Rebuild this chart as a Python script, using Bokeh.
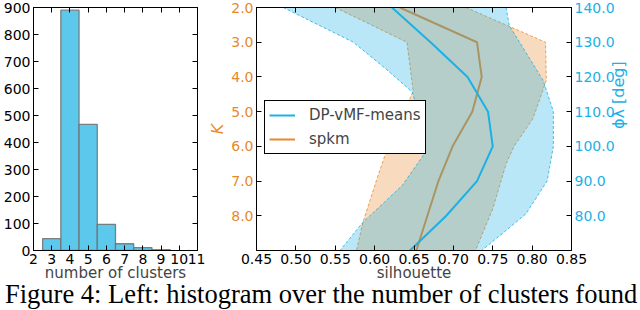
import math
from bokeh.plotting import figure
from bokeh.models import (Range1d, LinearAxis, FixedTicker, PrintfTickFormatter,
                          Legend, LegendItem, Div)
from bokeh.layouts import row, column
from bokeh.embed import file_html
from bokeh.resources import INLINE

# ---------------- data ----------------
n_clusters = [3, 4, 5, 6, 7, 8, 9]
cluster_counts = [44, 890, 467, 97, 25, 11, 3]
hist_xticks = [2, 3, 4, 5, 6, 7, 8, 9, 10, 11]
hist_yticks = [0, 100, 200, 300, 400, 500, 600, 700, 800, 900]

# spkm: silhouette vs K
K_vals = [2, 3, 4, 5, 6, 7, 8, 9]
spkm_sil = [0.632, 0.730, 0.736, 0.724, 0.699, 0.681, 0.667, 0.653]
spkm_lo_K = [2, 3, 4.4, 5, 6, 6.2, 7, 8.2, 9]
spkm_lo = [0.550, 0.641, 0.649, 0.638, 0.619, 0.614, 0.602, 0.585, 0.577]
spkm_hi_K = [2, 3, 4.1, 5.2, 6, 6.5, 7.8, 9]
spkm_hi = [0.716, 0.817, 0.818, 0.801, 0.777, 0.767, 0.750, 0.728]

# DP-vMF-means: silhouette vs phi_lambda
phi_vals = [140, 130, 120, 110, 100, 90, 80, 70]
dp_sil = [0.622, 0.671, 0.718, 0.744, 0.750, 0.730, 0.691, 0.645]
dp_lo_phi = [140, 130, 121.8, 115.6, 110, 100, 97.8, 88.7, 78.1, 70]
dp_lo = [0.484, 0.573, 0.617, 0.648, 0.655, 0.663, 0.663, 0.635, 0.585, 0.556]
dp_hi_phi = [140, 134.8, 119, 110, 100, 90, 80.5, 70]
dp_hi = [0.767, 0.771, 0.814, 0.827, 0.827, 0.819, 0.792, 0.736]

K_ticks = [2, 3, 4, 5, 6, 7, 8]
phi_ticks = [80, 90, 100, 110, 120, 130, 140]
sil_ticks = [0.45, 0.50, 0.55, 0.60, 0.65, 0.70, 0.75, 0.80, 0.85]

caption = "Figure 4: Left: histogram over the number of clusters found"

BLUE = "#1BB0E6"
ORANGE = "#E8892C"
HIST_FILL = "#5CC8EC"
FONT = "DejaVu Sans"
TICK_SIZE = "14px"


def style_axis(ax, color="black", show_labels=True):
    ax.major_tick_in = 5
    ax.major_tick_out = 0
    ax.minor_tick_line_color = None
    ax.axis_line_color = "black"
    ax.major_tick_line_color = "black"
    ax.major_label_text_font = FONT
    if show_labels:
        ax.major_label_text_color = color
        ax.major_label_text_font_size = TICK_SIZE
        ax.major_label_standoff = 3
    else:
        ax.major_label_text_color = None
        ax.major_label_text_alpha = 0
        ax.major_label_text_font_size = "0px"
        ax.major_label_standoff = 0
    ax.axis_label_text_font = FONT
    ax.axis_label_text_font_style = "normal"
    ax.axis_label_text_font_size = "15px"
    ax.axis_label_standoff = 1


# ---------------- histogram ----------------
H = 284
p1 = figure(width=205, height=H, x_range=Range1d(2, 11), y_range=Range1d(0, 900),
            output_backend="svg", toolbar_location=None,
            min_border_left=0, min_border_right=8, min_border_top=7, min_border_bottom=0)
p1.xaxis.ticker = FixedTicker(ticks=hist_xticks)
p1.yaxis.ticker = FixedTicker(ticks=hist_yticks)
p1.xaxis.axis_label = "number of clusters"
style_axis(p1.xaxis[0])
style_axis(p1.yaxis[0])
p1.xaxis.axis_label_standoff = -3
p1.add_layout(LinearAxis(ticker=FixedTicker(ticks=hist_xticks)), "above")
p1.add_layout(LinearAxis(ticker=FixedTicker(ticks=hist_yticks)), "right")
style_axis(p1.above[0], show_labels=False)
style_axis(p1.right[0], show_labels=False)
p1.xgrid.visible = False
p1.ygrid.visible = False
p1.outline_line_color = "black"
p1.quad(left=[c - 0.5 for c in n_clusters], right=[c + 0.5 for c in n_clusters],
        bottom=0, top=cluster_counts, fill_color=HIST_FILL, line_color="#6E6E6E",
        line_width=1.3, line_alpha=0.85)

# ---------------- silhouette plot ----------------
p2 = figure(width=435, height=H, x_range=Range1d(0.45, 0.85), y_range=Range1d(9, 2),
            output_backend="svg", toolbar_location=None,
            min_border_left=0, min_border_right=0, min_border_top=7, min_border_bottom=0)
p2.extra_y_ranges = {"phi": Range1d(70, 140)}
p2.xgrid.visible = False
p2.ygrid.visible = False
p2.outline_line_color = "black"

p2.xaxis.ticker = FixedTicker(ticks=sil_ticks)
p2.xaxis.formatter = PrintfTickFormatter(format="%.2f")
p2.xaxis.axis_label = "silhouette"
style_axis(p2.xaxis[0])
p2.xaxis.axis_label_standoff = -3

p2.yaxis.ticker = FixedTicker(ticks=K_ticks)
p2.yaxis.formatter = PrintfTickFormatter(format="%.1f")
p2.yaxis.axis_label = "K"
style_axis(p2.yaxis[0], color=ORANGE)
p2.yaxis.axis_label_text_color = ORANGE
p2.yaxis.axis_label_text_font_style = "italic"
p2.yaxis.axis_label_text_font_size = "16px"

ax_phi = LinearAxis(y_range_name="phi", ticker=FixedTicker(ticks=phi_ticks),
                    formatter=PrintfTickFormatter(format="%.1f"), axis_label="ϕλ [deg]")
p2.add_layout(ax_phi, "right")
style_axis(ax_phi, color=BLUE)
ax_phi.axis_label_text_color = BLUE
ax_phi.axis_label_text_font_size = "16px"
ax_phi.axis_label_orientation = math.pi / 2

ax_top = LinearAxis(ticker=FixedTicker(ticks=sil_ticks))
p2.add_layout(ax_top, "above")
style_axis(ax_top, show_labels=False)

# spkm band + line
p2.patch(x=spkm_lo + spkm_hi[::-1], y=spkm_lo_K + spkm_hi_K[::-1],
         fill_color=ORANGE, fill_alpha=0.3, line_color=None)
p2.line(spkm_lo, spkm_lo_K, line_color=ORANGE, line_dash="3 2", line_width=1, line_alpha=0.8)
p2.line(spkm_hi, spkm_hi_K, line_color=ORANGE, line_dash="3 2", line_width=1, line_alpha=0.8)
r_spkm = p2.line(spkm_sil, K_vals, line_color=ORANGE, line_width=2)

# DP-vMF-means band + line
p2.patch(x=dp_lo + dp_hi[::-1], y=dp_lo_phi + dp_hi_phi[::-1], y_range_name="phi",
         fill_color=BLUE, fill_alpha=0.3, line_color=None)
p2.line(dp_lo, dp_lo_phi, y_range_name="phi", line_color=BLUE, line_dash="3 2",
        line_width=1, line_alpha=0.8)
p2.line(dp_hi, dp_hi_phi, y_range_name="phi", line_color=BLUE, line_dash="3 2",
        line_width=1, line_alpha=0.8)
r_dp = p2.line(dp_sil, phi_vals, y_range_name="phi", line_color=BLUE, line_width=2)

legend = Legend(items=[LegendItem(label="DP-vMF-means", renderers=[r_dp]),
                       LegendItem(label="spkm", renderers=[r_spkm])],
                location=(8, 96), orientation="vertical")
legend.border_line_color = "black"
legend.border_line_width = 1
legend.border_line_alpha = 1
legend.background_fill_color = "white"
legend.background_fill_alpha = 1
legend.padding = 4
legend.spacing = 4
legend.margin = 0
legend.glyph_width = 26
legend.glyph_height = 20
legend.label_height = 20
legend.label_standoff = 14
legend.label_text_font = FONT
legend.label_text_font_size = "15px"
p2.add_layout(legend)

cap = Div(text=('<div style="white-space:nowrap;font-family:\'Liberation Serif\';'
                'font-size:26.5px;line-height:26px;position:relative;top:-8px;color:black">'
                + caption + '</div>'), width=640, height=20)

layout = column(row(p1, p2), cap)

open("out.html", "w").write(file_html(layout, INLINE))
